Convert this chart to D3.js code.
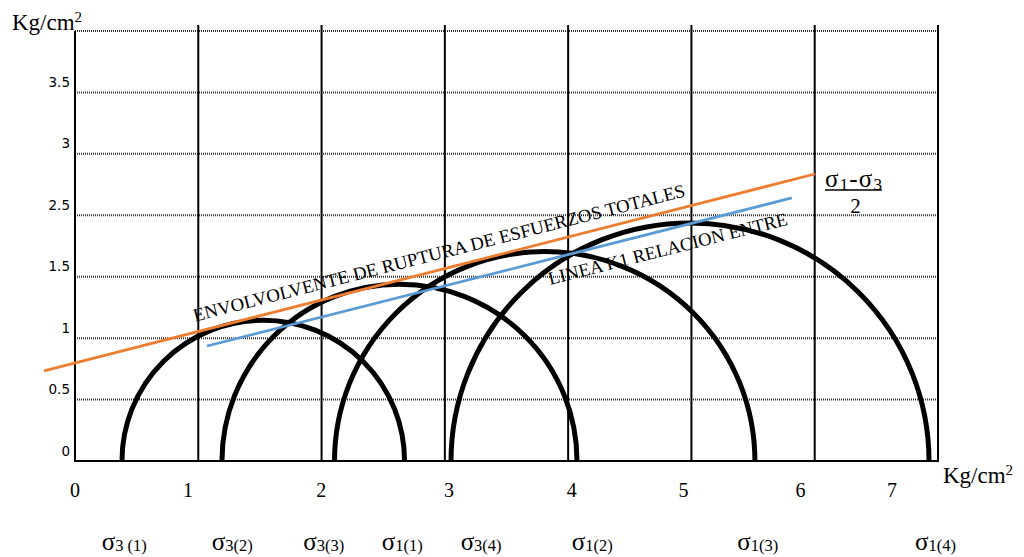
<!DOCTYPE html>
<html>
  <head>
    <meta charset="utf-8">
    <title>Envolvente de ruptura</title>
    <script src="https://d3js.org/d3.v7.min.js"></script>
    <style>
      body { margin: 0; background: #fff; }
      svg { display: block; }
      .serif { font-family: "Liberation Serif", "Times New Roman", serif; fill: #000; }
      .yTick text { font-family: "DejaVu Sans", Verdana, sans-serif; font-size: 13.5px; fill: #000; }
      .hGrid { stroke: #333; stroke-width: 2; stroke-dasharray: 1 1; }
      .vGrid { stroke: #000; stroke-width: 2; }
      .circle { fill: none; stroke: #000; stroke-width: 5; }
    </style>
  </head>
  <body>
    <svg id="chart" width="1024" height="557"></svg>
    <script>
      // Mohr circles, kg/cm2
      var sigma3 = [0.381, 1.192, 2.105, 3.050];
      var sigma1 = [2.673, 4.072, 5.515, 6.927];
      // envelope of total stresses (orange) and Kf line (blue)
      var envelopeX = [-0.251, 6.002];
      var envelopeY = [0.733, 2.336];
      var kfX = [1.071, 5.815];
      var kfY = [0.936, 2.141];
      // grid and ticks
      var xGrid = [1, 2, 3, 4, 5, 6, 7];
      var yGrid = [0.5, 1, 1.5, 2, 2.5, 3, 3.5];
      var yTicks = [0, 0.5, 1, 1.5, 2, 2.5, 3];
      var yTickLabels = ["0", "0.5", "1", "1.5", "2.5", "3", "3.5"];
      var xTickAt = [0, 0.917, 1.998, 3.033, 4.029, 4.935, 5.884, 6.627];
      var xTickLabels = ["0", "1", "2", "3", "4", "5", "6", "7"];
      // sigma labels under the axis
      var sigmaSubs = ["3 (1)", "3(2)", "3(3)", "1(1)", "3(4)", "1(2)", "1(3)", "1(4)"];
      var sigmaLabelAt = [0.217, 1.109, 1.852, 2.488, 3.128, 4.029, 5.372, 6.813];

      var chart = d3.select("#chart");
      var x = d3.scaleLinear().domain([0, 7]).range([75, 938]);
      var y = d3.scaleLinear().domain([0, 3.5]).range([461, 31]);

      // horizontal dotted grid
      chart.append("g").selectAll("line")
        .data(yGrid)
        .enter().append("line")
          .classed("hGrid", true)
          .attr("x1", x(0)).attr("x2", x(7))
          .attr("y1", function(d) { return y(d); })
          .attr("y2", function(d) { return y(d); });

      // vertical grid
      chart.append("g").selectAll("line")
        .data(xGrid)
        .enter().append("line")
          .classed("vGrid", true)
          .attr("x1", function(d) { return x(d); })
          .attr("x2", function(d) { return x(d); })
          .attr("y1", y(3.5) - 6)
          .attr("y2", y(0));

      // axes lines
      chart.append("line").classed("vGrid", true)
        .attr("x1", x(0)).attr("x2", x(0)).attr("y1", y(3.5)).attr("y2", y(0) + 1);
      chart.append("line").classed("vGrid", true)
        .attr("x1", x(0)).attr("x2", x(7) + 1).attr("y1", y(0)).attr("y2", y(0));

      // y tick labels (sit just above their line)
      var yAxis = d3.axisLeft(y)
        .tickValues(yTicks)
        .tickFormat(function(d, i) { return yTickLabels[i]; })
        .tickSize(0)
        .tickPadding(5);
      var yAxisGroup = chart.append("g")
        .classed("yTick", true)
        .attr("transform", "translate(" + x(0) + ",0)")
        .call(yAxis);
      yAxisGroup.select(".domain").remove();
      yAxisGroup.selectAll("text")
        .attr("dy", null)
        .attr("y", -6)
        .attr("font-family", null)
        .attr("font-size", null);

      // x tick labels
      chart.append("g").selectAll("text")
        .data(xTickLabels)
        .enter().append("text")
          .classed("serif", true)
          .attr("text-anchor", "middle")
          .style("font-size", "20px")
          .attr("x", function(d, i) { return x(xTickAt[i]); })
          .attr("y", 497)
          .text(function(d) { return d; });

      // Mohr semicircles
      chart.append("g").selectAll("path")
        .data(sigma3)
        .enter().append("path")
          .classed("circle", true)
          .attr("d", function(d, i) {
            var r = (sigma1[i] - d) / 2;
            var rx = x(sigma1[i]) - x(d + r);
            var ry = y(0) - y(r);
            return "M" + x(d) + "," + y(0) + " A" + rx + "," + ry + " 0 0 1 " + x(sigma1[i]) + "," + y(0);
          });

      // lines
      var line = d3.line()
        .x(function(d) { return x(d[0]); })
        .y(function(d) { return y(d[1]); });
      chart.append("path")
        .datum(d3.zip(envelopeX, envelopeY))
        .attr("d", line)
        .style("fill", "none")
        .style("stroke", "#ED7D31")
        .style("stroke-width", 2.8);
      chart.append("path")
        .datum(d3.zip(kfX, kfY))
        .attr("d", line)
        .style("fill", "none")
        .style("stroke", "#5B9BD5")
        .style("stroke-width", 2.8);

      // point along a line and its angle
      function along(lx, ly, t) {
        var x0 = x(lx[0]), y0 = y(ly[0]), x1 = x(lx[1]), y1 = y(ly[1]);
        var a = Math.atan2(y1 - y0, x1 - x0) * 180 / Math.PI;
        return [x0 + (x1 - x0) * t, y0 + (y1 - y0) * t, a];
      }

      var p = along(envelopeX, envelopeY, 0.199);
      chart.append("text")
        .classed("serif", true)
        .style("font-size", "18.5px")
        .attr("transform", "translate(" + p[0] + "," + p[1] + ") rotate(" + p[2] + ")")
        .attr("y", -10.4)
        .attr("textLength", 507)
        .attr("lengthAdjust", "spacingAndGlyphs")
        .text("ENVOLVOLVENTE DE RUPTURA DE ESFUERZOS TOTALES");

      var q = along(kfX, kfY, 0.576);
      chart.append("text")
        .classed("serif", true)
        .style("font-size", "18.5px")
        .attr("transform", "translate(" + q[0] + "," + q[1] + ") rotate(" + q[2] + ")")
        .attr("y", 25)
        .attr("textLength", 246)
        .attr("lengthAdjust", "spacingAndGlyphs")
        .text("LINEA K1 RELACION ENTRE");

      // (sigma1 - sigma3) / 2 label
      var frac = chart.append("text")
        .classed("serif", true)
        .style("font-size", "25px")
        .attr("x", 825)
        .attr("y", 187)
        .attr("textLength", 57)
        .attr("lengthAdjust", "spacing");
      frac.append("tspan").text("σ");
      frac.append("tspan").style("font-size", "17px").attr("dy", 3).text("1");
      frac.append("tspan").attr("dy", -3).text("-σ");
      frac.append("tspan").style("font-size", "17px").attr("dy", 3).text("3");
      chart.append("line")
        .attr("x1", 825).attr("x2", 882)
        .attr("y1", 190).attr("y2", 190)
        .style("stroke", "#000").style("stroke-width", 1.5);
      chart.append("text")
        .classed("serif", true)
        .style("font-size", "21px")
        .attr("text-anchor", "middle")
        .attr("x", 855.5)
        .attr("y", 213)
        .text("2");

      // units
      function units(px, py, supDy) {
        var t = chart.append("text")
          .classed("serif", true)
          .style("font-size", "23px")
          .attr("x", px)
          .attr("y", py);
        t.append("tspan").text("Kg/cm");
        t.append("tspan").style("font-size", "15px").attr("dy", supDy).text("2");
      }
      units(12, 30, -8);
      units(943, 483, -8);

      // sigma labels
      var sig = chart.append("g").selectAll("text")
        .data(sigmaSubs)
        .enter().append("text")
          .classed("serif", true)
          .style("font-size", "25px")
          .attr("x", function(d, i) { return x(sigmaLabelAt[i]); })
          .attr("y", 550);
      sig.append("tspan").text("σ");
      sig.append("tspan")
        .style("font-size", "16.5px")
        .attr("dy", 1)
        .text(function(d) { return d; });
    </script>
  </body>
</html>
